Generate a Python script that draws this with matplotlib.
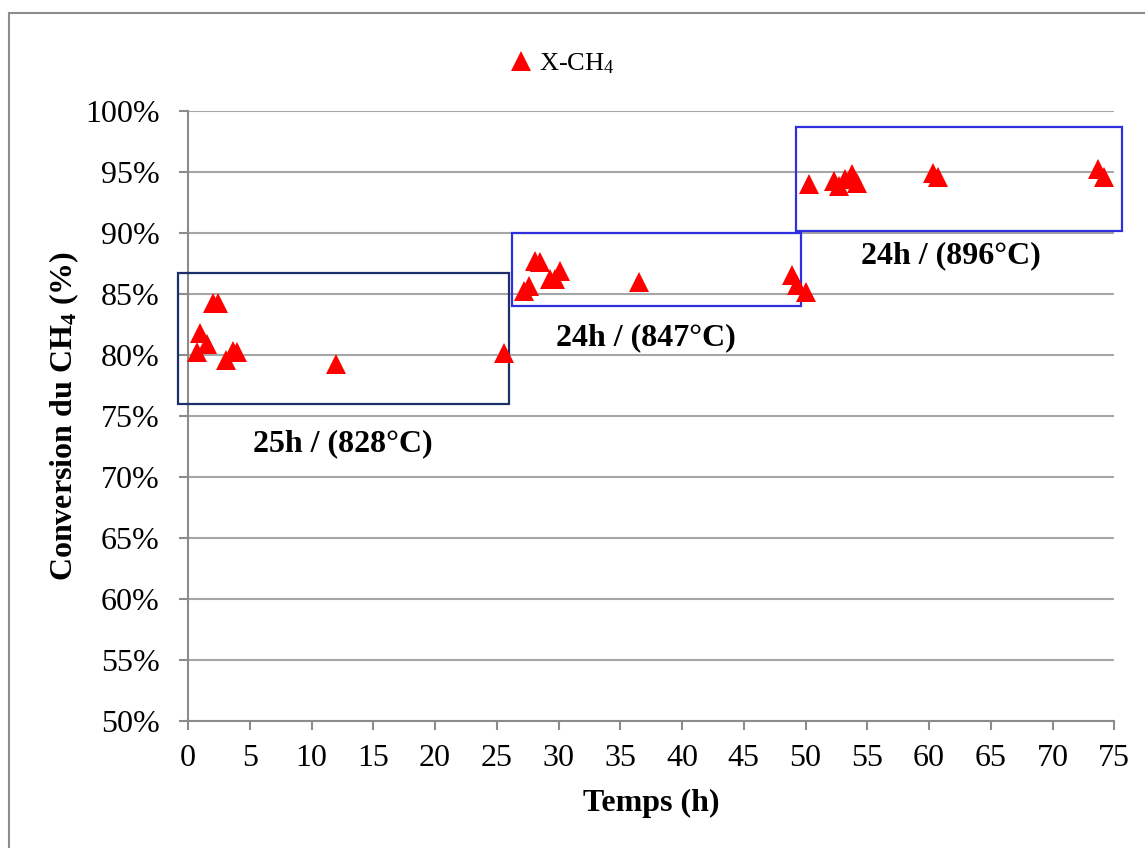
import matplotlib
matplotlib.use("Agg")
import matplotlib.pyplot as plt
from matplotlib.patches import Rectangle
from matplotlib.lines import Line2D
from matplotlib.ticker import FuncFormatter, MultipleLocator

# Methane conversion measured over time (h, %)
time_h = [0.7, 0.97, 1.5, 2.0, 2.45, 3.07, 3.67, 4.0, 12.0, 25.6,
          27.2, 27.6, 28.1, 28.5, 29.3, 29.7, 30.1, 36.5, 48.9, 49.3, 50.0,
          50.3, 52.3, 52.7, 53.2, 53.8, 54.2, 60.3, 60.7, 73.7, 74.2]
conversion = [80.2, 81.8, 80.9, 84.2, 84.2, 79.6, 80.3, 80.2, 79.2, 80.1,
              85.2, 85.6, 87.7, 87.6, 86.2, 86.2, 86.9, 86.0, 86.5, 85.7, 85.1,
              94.0, 94.2, 93.8, 94.4, 94.8, 94.1, 94.9, 94.6, 95.2, 94.6]

# Temperature plateaus: time span (h), conversion span (%), label
period_start = [-0.8, 26.2, 49.2]
period_end = [26.0, 49.6, 75.6]
period_low = [76.0, 84.0, 90.1]
period_high = [86.7, 90.0, 98.7]
period_labels = ["25h / (828°C)", "24h / (847°C)", "24h / (896°C)"]
label_pos = [(12.5, 72.05), (37.1, 80.8), (61.8, 87.5)]
period_colors = ["#1B3068", "#2F2FDD", "#2F2FDD"]

x_ticks = list(range(0, 80, 5))

plt.rcParams["font.family"] = ["Liberation Serif", "DejaVu Serif"]
plt.rcParams["mathtext.fontset"] = "custom"
plt.rcParams["mathtext.rm"] = "Liberation Serif"
plt.rcParams["mathtext.bf"] = "Liberation Serif:style=normal:weight=bold"
plt.rcParams["mathtext.it"] = "Liberation Serif:italic"

W, H = 1145, 848
fig = plt.figure(figsize=(W / 100, H / 100), dpi=100)
ax = fig.add_axes([188 / W, 1 - 720.7 / H, (1114.3 - 188) / W, (720.7 - 110.7) / H])

grid_c = "#A6A6A6"
spine_c = "#8C8C8C"
fs = 23

ax.set_xlim(0, 75)
ax.set_ylim(50, 100)
ax.yaxis.set_major_locator(MultipleLocator(5))
ax.set_xticks(x_ticks)
ax.yaxis.set_major_formatter(FuncFormatter(lambda v, p: f"{int(round(v))}%"))
ax.grid(axis="y", color=grid_c, linewidth=1.5)
ax.set_axisbelow(True)
for s in ("top", "right"):
    ax.spines[s].set_visible(False)
for s in ("left", "bottom"):
    ax.spines[s].set_color(spine_c)
    ax.spines[s].set_linewidth(1.5)
ax.tick_params(axis="both", direction="out", length=6.5, width=1.5,
               color=spine_c, labelsize=fs)
ax.tick_params(axis="y", pad=14)
ax.tick_params(axis="x", pad=10)

ax.plot(time_h, conversion, linestyle="none", marker="^", markersize=14,
        color="#FF0000", markeredgewidth=0, label=r"X-CH$_\mathrm{4}$",
        clip_on=False, zorder=4)

for x0, x1, lo, hi, col in zip(period_start, period_end, period_low,
                               period_high, period_colors):
    ax.add_patch(Rectangle((x0, lo), x1 - x0, hi - lo, fill=False,
                           edgecolor=col, linewidth=1.6, clip_on=False, zorder=3))
for (tx, ty), txt in zip(label_pos, period_labels):
    ax.text(tx, ty, txt, ha="center", va="baseline", fontsize=fs,
            fontweight="bold", zorder=5)

ax.set_xlabel("Temps (h)", fontsize=fs, fontweight="bold", labelpad=12)
ax.set_ylabel(r"Conversion du CH$_\mathbf{4}$ (%)", fontsize=fs,
              fontweight="bold", labelpad=3)

fig.legend(loc="center", bbox_to_anchor=(561 / W, 1 - 64 / H), frameon=False,
           fontsize=19, handletextpad=0.2, handlelength=1.0, markerscale=1.0)

# outer chart frame
fc = "#8C8C8C"
fig.add_artist(Line2D([8.5 / W, 8.5 / W], [0, 1 - 12.7 / H], color=fc,
                      linewidth=1.5, transform=fig.transFigure))
fig.add_artist(Line2D([8.5 / W, 1], [1 - 12.7 / H, 1 - 12.7 / H], color=fc,
                      linewidth=1.5, transform=fig.transFigure))

fig.savefig("out.png", dpi=100)
